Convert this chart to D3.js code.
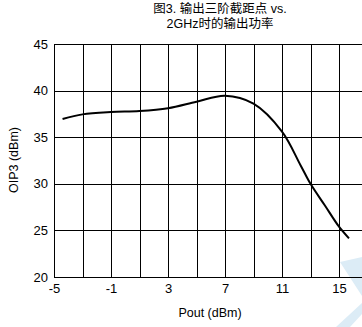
<!DOCTYPE html>
<html>
<head>
<meta charset="utf-8">
<script src="https://cdn.jsdelivr.net/npm/d3@7"></script>
<style>
  body { margin: 0; background: #fff; }
  svg { display: block; font-family: "Liberation Sans", Arial, "Noto Sans CJK SC", sans-serif; }
</style>
</head>
<body>
<svg id="chart"></svg>
<script>
const titleLines = ["图3. 输出三阶截距点 vs.", "2GHz时的输出功率"];
const xLabel = "Pout (dBm)";
const yLabel = "OIP3 (dBm)";

// curve
const pout = [-4.4, -3, -1, 1, 3, 5, 7, 9, 11, 12.3, 13, 14, 15, 15.7];
const oip3 = [36.95, 37.45, 37.7, 37.8, 38.1, 38.8, 39.45, 38.6, 35.6, 32.0, 30.0, 27.7, 25.4, 24.15];

const xTicks = [-5, -1, 3, 7, 11, 15];
const xGrid = [-5, -3, -1, 1, 3, 5, 7, 9, 11, 13, 15, 17];
const yTicks = [20, 25, 30, 35, 40, 45];

const width = 362, height = 327;
const marginLeft = 54, marginTop = 44, plotBottom = 277;

const svg = d3.select("#chart")
    .attr("width", width)
    .attr("height", height)
    .attr("viewBox", [0, 0, width, height]);

// faint watermark shapes, bottom right
svg.append("path")
    .attr("fill", "#dcecf6")
    .attr("d", "M340,262 L362,257 L362,296 Z M336,327 L362,303 L362,314 L350,327 Z");

const x = d3.scaleLinear([-5, 17], [marginLeft, marginLeft + 22 * 14.25]);
const y = d3.scaleLinear([20, 45], [plotBottom, marginTop]);

// grid
svg.append("g")
    .attr("stroke", "#000")
    .attr("stroke-width", 1)
    .call(g => g.selectAll(".v").data(xGrid).join("line")
        .attr("x1", d => Math.round(x(d)) + 0.5)
        .attr("x2", d => Math.round(x(d)) + 0.5)
        .attr("y1", y(45))
        .attr("y2", y(20)))
    .call(g => g.selectAll(".h").data(yTicks).join("line")
        .attr("x1", x(-5))
        .attr("x2", x(17))
        .attr("y1", d => Math.round(y(d)) + 0.5)
        .attr("y2", d => Math.round(y(d)) + 0.5));

// x axis labels (plain hyphen for negatives, as in the original)
svg.append("g")
    .attr("transform", `translate(0,${plotBottom})`)
    .call(d3.axisBottom(x).tickValues(xTicks).tickFormat(d => String(d)).tickSize(0).tickPadding(7))
    .call(g => g.select(".domain").remove())
    .call(g => g.selectAll("text")
        .attr("font-family", "Liberation Sans, Arial, sans-serif")
        .attr("font-size", 13)
        .attr("fill", "#000"));

// y axis labels
svg.append("g")
    .attr("transform", `translate(${marginLeft},0)`)
    .call(d3.axisLeft(y).tickValues(yTicks).tickFormat(d => String(d)).tickSize(0).tickPadding(6))
    .call(g => g.select(".domain").remove())
    .call(g => g.selectAll("text")
        .attr("font-family", "Liberation Sans, Arial, sans-serif")
        .attr("font-size", 13)
        .attr("fill", "#000"));

// axis titles
svg.append("text")
    .attr("x", 210)
    .attr("y", 317)
    .attr("text-anchor", "middle")
    .attr("font-size", 12.5)
    .text(xLabel);

svg.append("text")
    .attr("transform", "translate(18,160) rotate(-90)")
    .attr("text-anchor", "middle")
    .attr("font-size", 12.5)
    .text(yLabel);

// title
svg.append("g")
    .selectAll("text")
    .data(titleLines)
    .join("text")
    .attr("x", 220)
    .attr("y", (d, i) => 13 + i * 15)
    .attr("text-anchor", "middle")
    .attr("font-size", 12.5)
    .text(d => d);

// curve
const line = d3.line()
    .curve(d3.curveCatmullRom)
    .x(i => x(pout[i]))
    .y(i => y(oip3[i]));

svg.append("path")
    .attr("fill", "none")
    .attr("stroke", "#000")
    .attr("stroke-width", 2)
    .attr("d", line(d3.range(pout.length)));
</script>
</body>
</html>
